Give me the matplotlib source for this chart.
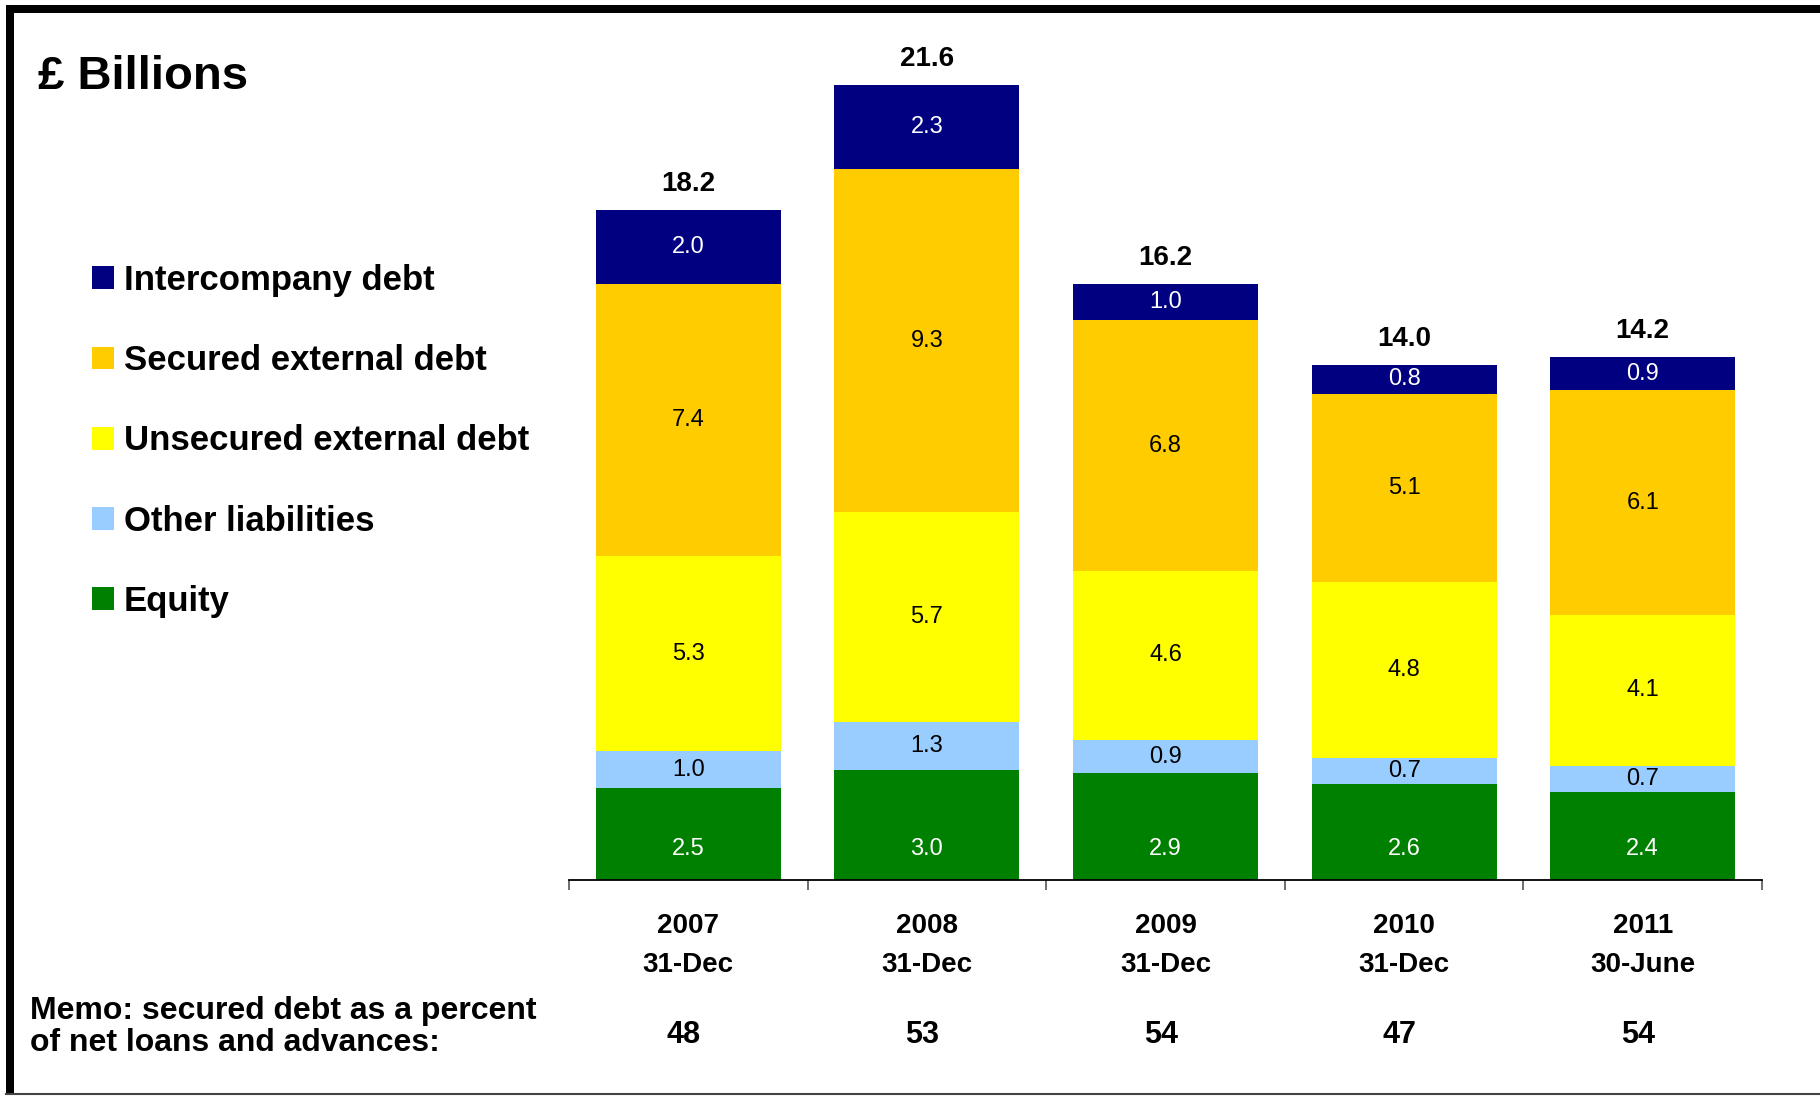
import matplotlib
matplotlib.use("Agg")
import matplotlib.pyplot as plt
import matplotlib.transforms as mtransforms
from matplotlib.patches import Rectangle
from matplotlib.lines import Line2D
import numpy as np

plt.rcParams['font.family'] = ['Liberation Sans', 'DejaVu Sans']

# ── data ─────────────────────────────────────
years = ['2007', '2008', '2009', '2010', '2011']
dates = ['31-Dec', '31-Dec', '31-Dec', '31-Dec', '30-June']
equity = [2.5, 3.0, 2.9, 2.6, 2.4]
other_liab = [1.0, 1.3, 0.9, 0.7, 0.7]
unsecured = [5.3, 5.7, 4.6, 4.8, 4.1]
secured = [7.4, 9.3, 6.8, 5.1, 6.1]
intercompany = [2.0, 2.3, 1.0, 0.8, 0.9]
memo_pct = [48, 53, 54, 47, 54]

series = [
    ('Equity', equity, '#008000', 'white'),
    ('Other liabilities', other_liab, '#99CCFF', 'black'),
    ('Unsecured external debt', unsecured, '#FFFF00', 'black'),
    ('Secured external debt', secured, '#FFCC00', 'black'),
    ('Intercompany debt', intercompany, '#000080', 'white'),
]

W, H = 1820, 1096
fig = plt.figure(figsize=(W / 100, H / 100), dpi=100)
fig.patch.set_facecolor('white')

# axes placement (pixel based)
ax_left, ax_right, ax_base = 569, 1762, 880
ymax = 23
px_per_unit = 36.82
ax = fig.add_axes([ax_left / W, 1 - ax_base / H, (ax_right - ax_left) / W,
                   ymax * px_per_unit / H])

x = np.arange(len(years))
bottom = np.zeros(len(years))
handles = {}
for name, vals, color, tcolor in series:
    vals = np.array(vals)
    bars = ax.bar(x, vals, bottom=bottom, width=0.775, color=color,
                  edgecolor='none', label=name)
    handles[name] = bars
    for xi, v, b in zip(x, vals, bottom):
        ly = 0.85 if name == 'Equity' else b + v / 2
        ax.text(xi, ly, f'{v:.1f}', ha='center', va='center',
                fontsize=17, color=tcolor)
    bottom = bottom + vals

# totals on top
for xi, tot in zip(x, bottom):
    ax.annotate(f'{tot:.1f}', (xi, tot), xytext=(0, 13.5), textcoords='offset points',
                ha='center', va='baseline', fontsize=20, fontweight='bold')

ax.set_xlim(-0.5, len(years) - 0.5)
ax.set_ylim(0, ymax)
for s in ['top', 'right', 'left']:
    ax.spines[s].set_visible(False)
ax.spines['bottom'].set_linewidth(1.3)
ax.set_yticks([])
ax.set_xticks(x)
ax.set_xticklabels([f'{y}\n{d}' for y, d in zip(years, dates)],
                   fontsize=20, fontweight='bold', linespacing=1.65)
ax.tick_params(axis='x', which='major', length=0, pad=24)
ax.set_xticks(np.arange(-0.5, len(years)), minor=True)
ax.tick_params(axis='x', which='minor', length=7.5, width=1.2, color='#555555')

# memo row
trans = mtransforms.blended_transform_factory(ax.transData, fig.transFigure)
for xi, m in zip(x, memo_pct):
    ax.text(xi - 0.02, 1 - 1035 / H, str(m), transform=trans, ha='center',
            va='center', fontsize=22, fontweight='bold')
fig.text(30 / W, 1 - 1011 / H, 'Memo: secured debt as a percent',
         ha='left', va='center', fontsize=23, fontweight='bold')
fig.text(30 / W, 1 - 1043 / H, 'of net loans and advances:',
         ha='left', va='center', fontsize=23, fontweight='bold')

# title
fig.text(38 / W, 1 - 89 / H, '£ Billions', ha='left', va='baseline',
         fontsize=34, fontweight='bold')

# legend
order = ['Intercompany debt', 'Secured external debt', 'Unsecured external debt',
         'Other liabilities', 'Equity']
leg = fig.legend([handles[n] for n in order], order, loc='upper left',
                 bbox_to_anchor=(92 / W, 1 - 264 / H), frameon=False,
                 prop={'size': 25, 'weight': 'bold'}, handlelength=0.63,
                 handleheight=0.63, handletextpad=0.28, labelspacing=1.36,
                 borderpad=0, borderaxespad=0)

# frame around figure
fig.add_artist(Rectangle((6 / W, 1 - 13 / H), 1 - 6 / W, 8 / H,
                         transform=fig.transFigure, color='black', lw=0))
fig.add_artist(Rectangle((6 / W, 1 - 1093 / H), 8 / W, 1088 / H,
                         transform=fig.transFigure, color='black', lw=0))
fig.add_artist(Line2D([6 / W, 1], [1 - 1094 / H, 1 - 1094 / H],
                      transform=fig.transFigure, color='#444444', lw=1.5))

fig.savefig('out.png', dpi=100, facecolor='white')
